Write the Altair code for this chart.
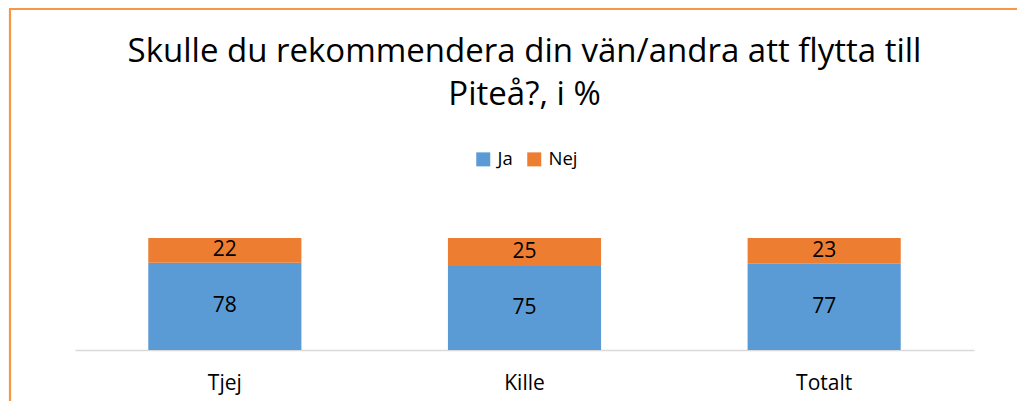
import altair as alt
import pandas as pd

categories = ["Tjej", "Kille", "Totalt"]
ja_values = [78, 75, 77]
nej_values = [22, 25, 23]
series = ["Ja", "Nej"]
colors = ["#5B9BD5", "#ED7D31"]
title_lines = ["Skulle du rekommendera din vän/andra att flytta till", "Piteå?, i %"]

FONT = "Open Sans"

rows = []
for c, j, n in zip(categories, ja_values, nej_values):
    rows.append({"grupp": c, "svar": "Ja", "procent": j, "ordning": 0})
    rows.append({"grupp": c, "svar": "Nej", "procent": n, "ordning": 1})
df = pd.DataFrame(rows)

x_enc = alt.X(
    "grupp:N",
    sort=categories,
    scale=alt.Scale(paddingInner=0.489, paddingOuter=0.2445),
    axis=alt.Axis(
        title=None,
        labelAngle=0,
        ticks=False,
        domainColor="#D9D9D9",
        domainWidth=1.5,
        labelFontSize=21,
        labelColor="#000000",
        labelPadding=22,
        labelFont=FONT,
    ),
)

base = alt.Chart(df).transform_stack(
    stack="procent",
    groupby=["grupp"],
    as_=["y0", "y1"],
    sort=[alt.SortField("ordning", order="ascending")],
).transform_calculate(mid="(datum.y0 + datum.y1) / 2")

bars = base.mark_bar().encode(
    x=x_enc,
    y=alt.Y("y0:Q", scale=alt.Scale(domain=[0, 100], nice=False), axis=None),
    y2="y1:Q",
    color=alt.Color(
        "svar:N",
        scale=alt.Scale(domain=series, range=colors),
        legend=alt.Legend(
            title=None,
            orient="none",
            legendX=399,
            legendY=-88,
            direction="horizontal",
            symbolType="square",
            symbolSize=196,
            symbolStrokeWidth=0,
            labelFontSize=18.5,
            labelFont=FONT,
            labelColor="#000000",
            labelOffset=5,
            columnPadding=12,
        ),
    ),
)

labels = base.mark_text(fontSize=21, font=FONT, color="#000000", baseline="middle").encode(
    x=alt.X("grupp:N", sort=categories),
    y=alt.Y("mid:Q"),
    text=alt.Text("procent:Q"),
)

one = pd.DataFrame({"k": [0]})
frame_left = alt.Chart(one).mark_rule(
    stroke="#F79646", strokeWidth=2.2, clip=False
).encode(
    x=alt.value(-65),
    y=alt.value(-229),
    y2=alt.value(180),
)
frame_top = alt.Chart(one).mark_rule(
    stroke="#F79646", strokeWidth=2.2, clip=False
).encode(
    x=alt.value(-66),
    x2=alt.value(942),
    y=alt.value(-229),
)

chart = alt.layer(frame_left, frame_top, bars, labels).properties(
    width=899,
    height=112,
    title=alt.TitleParams(
        text=title_lines,
        fontSize=33,
        font=FONT,
        fontWeight="normal",
        color="#000000",
        lineHeight=43,
        anchor="middle",
        offset=-104,
    ),
    autosize=alt.AutoSizeParams(type="none"),
    padding={"left": 67, "top": 230, "right": 44, "bottom": 51},
).configure(font=FONT).configure_view(stroke="transparent", strokeWidth=0)

chart.save("out.html", embed_options={"renderer": "svg", "actions": False})
